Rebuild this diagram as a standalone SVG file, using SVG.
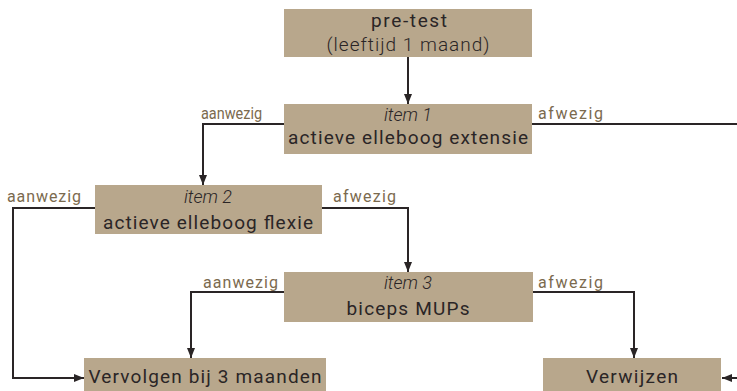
<svg xmlns="http://www.w3.org/2000/svg" width="737" height="391" viewBox="0 0 737 391">
<defs>
<style>
.box{fill:#b8a78c;}
.t{font-family:"Roboto","Liberation Sans",sans-serif;font-size:19px;fill:#2a2526;text-anchor:middle;}
.it{font-style:italic;font-weight:300;font-size:18px;}
.b{font-weight:400;}
.lt{font-weight:300;}
.lbl{font-family:"Roboto","Liberation Sans",sans-serif;font-size:16px;fill:#7b6a4e;font-weight:400;}
.c{fill:none;stroke:#2a2526;stroke-width:2;}
</style>
<marker id="ah" markerUnits="userSpaceOnUse" markerWidth="10" markerHeight="10" viewBox="0 0 10 10" refX="10" refY="5" orient="auto">
<path d="M0,1 L10,5 L0,9 Z" fill="#2a2526"/>
</marker>
</defs>
<g id="connectors">
<path class="c" d="M408,57 V104" marker-end="url(#ah)"/>
<path class="c" d="M285,124 H203 V185" marker-end="url(#ah)"/>
<path class="c" d="M531,124 H737"/>
<path class="c" d="M95,208 H13 V378 H84" marker-end="url(#ah)"/>
<path class="c" d="M322,208 H408 V272" marker-end="url(#ah)"/>
<path class="c" d="M284,292 H191 V358" marker-end="url(#ah)"/>
<path class="c" d="M533,292 H634 V358" marker-end="url(#ah)"/>
<path class="c" d="M737,378 H722" marker-end="url(#ah)"/>
</g>
<g id="labels">
<text class="lbl" x="201" y="119" textLength="61" lengthAdjust="spacingAndGlyphs">aanwezig</text>
<text class="lbl" x="538" y="119" textLength="65" lengthAdjust="spacing">afwezig</text>
<text class="lbl" x="7" y="202" textLength="74" lengthAdjust="spacing">aanwezig</text>
<text class="lbl" x="333" y="202" textLength="63" lengthAdjust="spacing">afwezig</text>
<text class="lbl" x="203" y="288" textLength="75" lengthAdjust="spacing">aanwezig</text>
<text class="lbl" x="538" y="288" textLength="65" lengthAdjust="spacing">afwezig</text>
</g>
<g id="pretest">
<rect class="box" x="284" y="9" width="248" height="48"/>
<text class="t b" x="409" y="27" textLength="76" lengthAdjust="spacing">pre-test</text>
<text class="t lt" x="408" y="51" textLength="163" lengthAdjust="spacing">(leeftijd 1 maand)</text>
</g>
<g id="item1">
<rect class="box" x="284" y="104" width="248" height="50"/>
<text class="t it" x="408" y="121">item 1</text>
<text class="t b" x="408" y="144" textLength="240" lengthAdjust="spacing">actieve elleboog extensie</text>
</g>
<g id="item2">
<rect class="box" x="95" y="185" width="227" height="49"/>
<text class="t it" x="208" y="203">item 2</text>
<text class="t b" x="208" y="229" textLength="210" lengthAdjust="spacing">actieve elleboog flexie</text>
</g>
<g id="item3">
<rect class="box" x="284" y="272" width="249" height="50"/>
<text class="t it" x="408" y="289">item 3</text>
<text class="t b" x="408" y="315" textLength="123" lengthAdjust="spacing">biceps MUPs</text>
</g>
<g id="vervolgen">
<rect class="box" x="84" y="358" width="242" height="33"/>
<text class="t b" x="205" y="383" textLength="233" lengthAdjust="spacing">Vervolgen bij 3 maanden</text>
</g>
<g id="verwijzen">
<rect class="box" x="543" y="358" width="178" height="33"/>
<text class="t b" x="632" y="383" textLength="92" lengthAdjust="spacing">Verwijzen</text>
</g>
</svg>
